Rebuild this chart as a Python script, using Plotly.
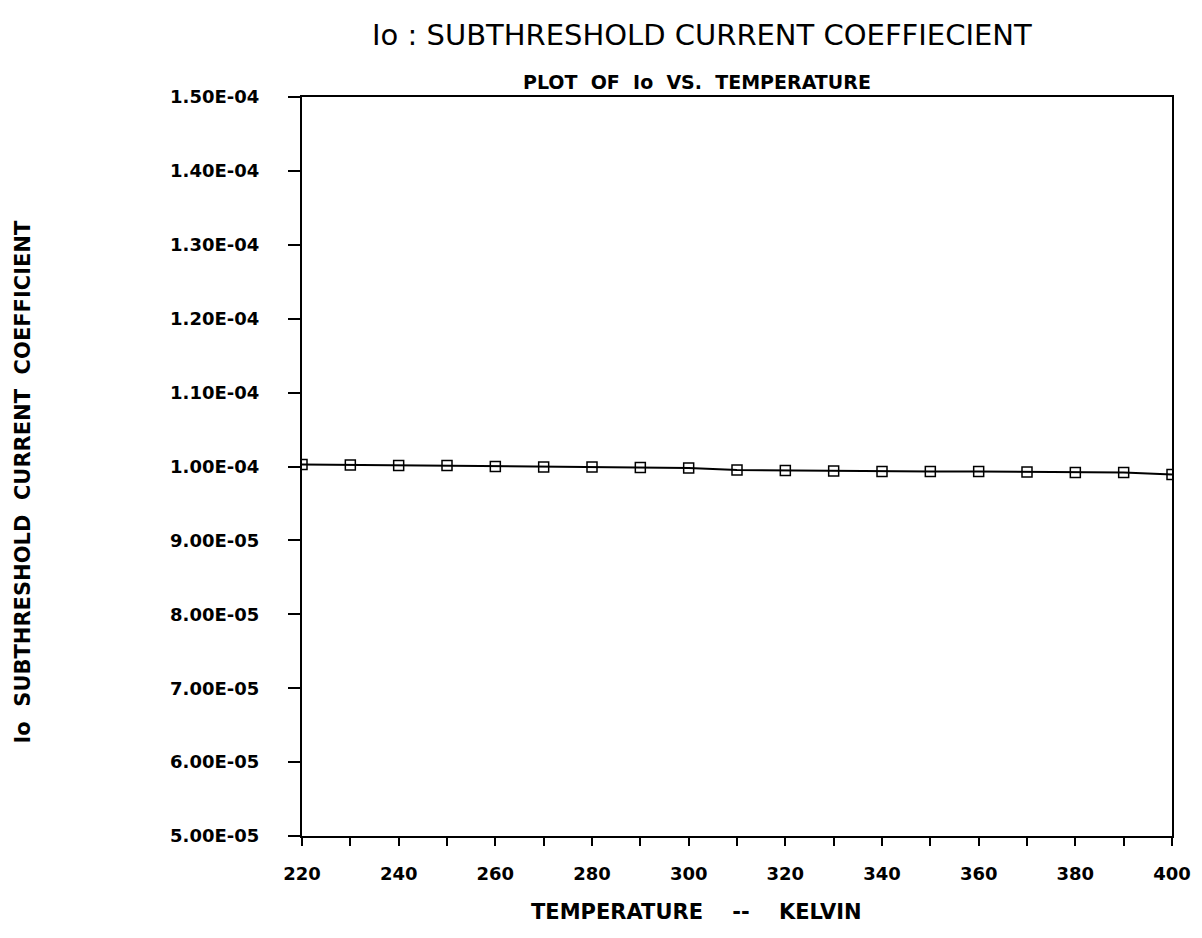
import plotly.graph_objects as go

temperature = [220, 230, 240, 250, 260, 270, 280, 290, 300, 310,
               320, 330, 340, 350, 360, 370, 380, 390, 400]
io_values = [1.0027e-4, 1.0020e-4, 1.0014e-4, 1.0014e-4, 1.0000e-4, 0.9993e-4,
             0.9993e-4, 0.9986e-4, 0.9980e-4, 0.9953e-4, 0.9946e-4, 0.9939e-4,
             0.9932e-4, 0.9932e-4, 0.9932e-4, 0.9926e-4, 0.9919e-4, 0.9919e-4,
             0.9892e-4]

y_tick_vals = [5e-5, 6e-5, 7e-5, 8e-5, 9e-5, 1.0e-4, 1.1e-4, 1.2e-4, 1.3e-4, 1.4e-4, 1.5e-4]
y_tick_text = ["5.00E-05", "6.00E-05", "7.00E-05", "8.00E-05", "9.00E-05",
               "1.00E-04", "1.10E-04", "1.20E-04", "1.30E-04", "1.40E-04", "1.50E-04"]
x_tick_vals = [220, 240, 260, 280, 300, 320, 340, 360, 380, 400]

font_main = "DejaVu Sans, Arial, sans-serif"
pad = "\u00a0" * 4

fig = go.Figure()
fig.add_trace(go.Scatter(
    x=temperature, y=io_values, mode="lines+markers",
    line=dict(color="black", width=2),
    marker=dict(symbol="square-open", size=10, color="black", line=dict(width=1.5)),
    showlegend=False,
))

fig.update_layout(
    width=1186, height=922,
    paper_bgcolor="white", plot_bgcolor="white",
    margin=dict(l=294, r=22, t=89, b=94, autoexpand=False),
    font=dict(family=font_main, color="black"),
    annotations=[
        dict(text="Io : SUBTHRESHOLD CURRENT COEFFIECIENT", xref="paper", yref="paper",
             x=0.5, y=1, xshift=-35, yshift=62, showarrow=False, font=dict(size=29, color="black"),
             xanchor="center", yanchor="middle"),
        dict(text="<b>PLOT  OF  Io  VS.  TEMPERATURE</b>", xref="paper", yref="paper",
             x=0.5, y=1, xshift=-40, yshift=15, showarrow=False, font=dict(size=19, color="black"),
             xanchor="center", yanchor="middle"),
        dict(text="<b>TEMPERATURE    --    KELVIN</b>", xref="paper", yref="paper",
             x=0.5, y=0, xshift=-41, yshift=-76, showarrow=False, font=dict(size=21, color="black"),
             xanchor="center", yanchor="middle"),
        dict(text="<b>Io  SUBTHRESHOLD  CURRENT  COEFFICIENT</b>", xref="paper", yref="paper",
             x=0, y=0.5, xshift=-280, yshift=-16, textangle=-90, showarrow=False,
             font=dict(size=21, color="black"), xanchor="center", yanchor="middle"),
    ],
)

fig.update_xaxes(
    range=[220, 400], tickvals=x_tick_vals,
    ticks="outside", ticklen=8, tickwidth=1.5, tickcolor="black",
    minor=dict(dtick=10, tick0=220, ticks="outside", ticklen=8, tickwidth=1.5, tickcolor="black", showgrid=False),
    showline=True, linecolor="black", linewidth=2, mirror=True,
    showgrid=False, zeroline=False, automargin=False, ticklabelstandoff=12,
    tickfont=dict(size=18, family="DejaVu Sans Bold, DejaVu Sans", weight="bold"),
)
fig.update_yaxes(
    range=[5e-5, 1.5e-4], tickvals=y_tick_vals, ticktext=[t + pad for t in y_tick_text],
    ticks="outside", ticklen=12, tickwidth=1.5, tickcolor="black",
    showline=True, linecolor="black", linewidth=2, mirror=True,
    showgrid=False, zeroline=False, automargin=False,
    tickfont=dict(size=18, family="DejaVu Sans Bold, DejaVu Sans", weight="bold"),
)

fig.write_html("out.html")
